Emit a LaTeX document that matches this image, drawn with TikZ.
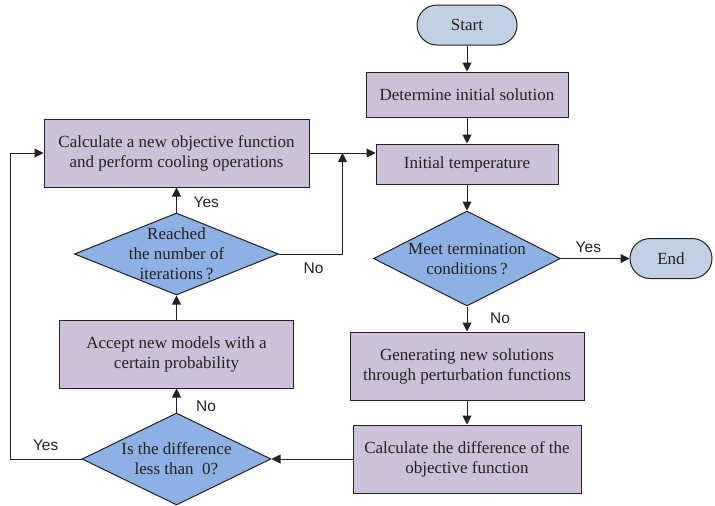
\documentclass[tikz,border=0pt]{standalone}
\usepackage{fontspec}
\setmainfont{Liberation Serif}
\newfontfamily\labelfont{Liberation Sans}
\usetikzlibrary{positioning,shapes.geometric,arrows.meta}

\definecolor{procfill}{RGB}{203,193,217}
\definecolor{decifill}{RGB}{141,177,226}
\definecolor{termfill}{RGB}{194,208,227}
\definecolor{edgegray}{RGB}{34,34,34}

\begin{document}
\begin{tikzpicture}[
  x=1pt, y=-1pt,
  node distance=26pt,
  font=\fontsize{17}{20}\selectfont,
  process/.style={
    draw=edgegray,
    fill=procfill,
    text=edgegray,
    line width=1pt,
    align=center,
    inner sep=0pt,
    minimum height=68pt
  },
  decision/.style={diamond, draw=edgegray, fill=decifill, line width=1pt, inner sep=0pt},
  terminal/.style={draw=edgegray, fill=termfill, text=edgegray, line width=1pt,
    rounded corners=20pt, minimum width=100pt, minimum height=40pt},
  yesno/.style={font=\labelfont\fontsize{15.5}{18}\selectfont, text=edgegray, inner sep=2pt},
  arrow/.style={-{Triangle[length=9pt,width=9pt]}, line width=1pt, draw=edgegray}
]
\useasboundingbox (0,0) rectangle (715,506);

% right column
\node[terminal] (start) at (467,25) {Start};
\node[process, below=of start, minimum width=202pt, minimum height=45pt] (initsol) {Determine initial solution};
\node[process, below=of initsol, minimum width=182pt, minimum height=40pt] (inittemp) {Initial temperature};
\node[decision, below=of inittemp, minimum width=187pt, minimum height=95pt,
  label={[align=center, text=edgegray]center:{Meet termination\\conditions\,?}}] (meet) {};
\node[terminal, right=68.5pt of meet, minimum width=82pt] (finish) {End};
\node[process, below=25pt of meet, minimum width=234pt] (perturb) {Generating new solutions\\through perturbation functions};
\node[process, below=24pt of perturb, minimum width=228pt] (calcdiff) {Calculate the difference of the\\objective function};

% left column
\node[decision, left=81pt of calcdiff, minimum width=189pt, minimum height=92pt,
  label={[align=center, text=edgegray]center:{Is the difference\\less than~~0?}}] (isdiff) {};
\node[process, above=24pt of isdiff, minimum width=234pt] (accept) {Accept new models with a\\certain probability};
\node[decision, above=24pt of accept, minimum width=204pt, minimum height=82pt,
  label={[align=center, text=edgegray]center:{Reached\\the number of\\iterations\,?}}] (reached) {};
\node[process, above=25pt of reached, minimum width=265pt] (calcnew) {Calculate a new objective function\\and perform cooling operations};

\coordinate[right=33pt of calcnew.east] (merge);
\coordinate[left=71pt of isdiff.west] (loopcorner);

% yes / no labels
\node[yesno, anchor=west] (yesReach) at ([xshift=15pt,yshift=10pt]reached.north) {Yes};
\node[yesno, anchor=west] (noReach) at ([xshift=22.5pt,yshift=-14.5pt]reached.east) {No};
\node[yesno, anchor=west] (yesMeet) at ([xshift=12.5pt,yshift=11pt]meet.east) {Yes};
\node[yesno, anchor=west] (noMeet) at ([xshift=21pt,yshift=-11.5pt]meet.south) {No};
\node[yesno, anchor=west] (noDiff) at ([xshift=17.5pt,yshift=6.5pt]isdiff.north) {No};
\node[yesno, anchor=east] (yesDiff) at ([xshift=-21pt,yshift=13.5pt]isdiff.west) {Yes};

\draw[arrow] (start) -- (initsol);
\draw[arrow] (initsol) -- (inittemp);
\draw[arrow] (inittemp) -- (meet);
\draw[arrow] (meet) -- (finish);
\draw[arrow] (meet) -- (perturb);
\draw[arrow] (perturb) -- (calcdiff);
\draw[arrow] (calcdiff) -- (isdiff);
\draw[arrow] (isdiff) -- (accept);
\draw[arrow] (accept) -- (reached);
\draw[arrow] (reached) -- (calcnew);
\draw[arrow] (calcnew.east) -- (calcnew.east -| inittemp.west);
\draw[arrow] (reached.east) -| (merge);
\draw[arrow] (isdiff.west) -- (loopcorner) |- (calcnew.west);
\end{tikzpicture}
\end{document}
